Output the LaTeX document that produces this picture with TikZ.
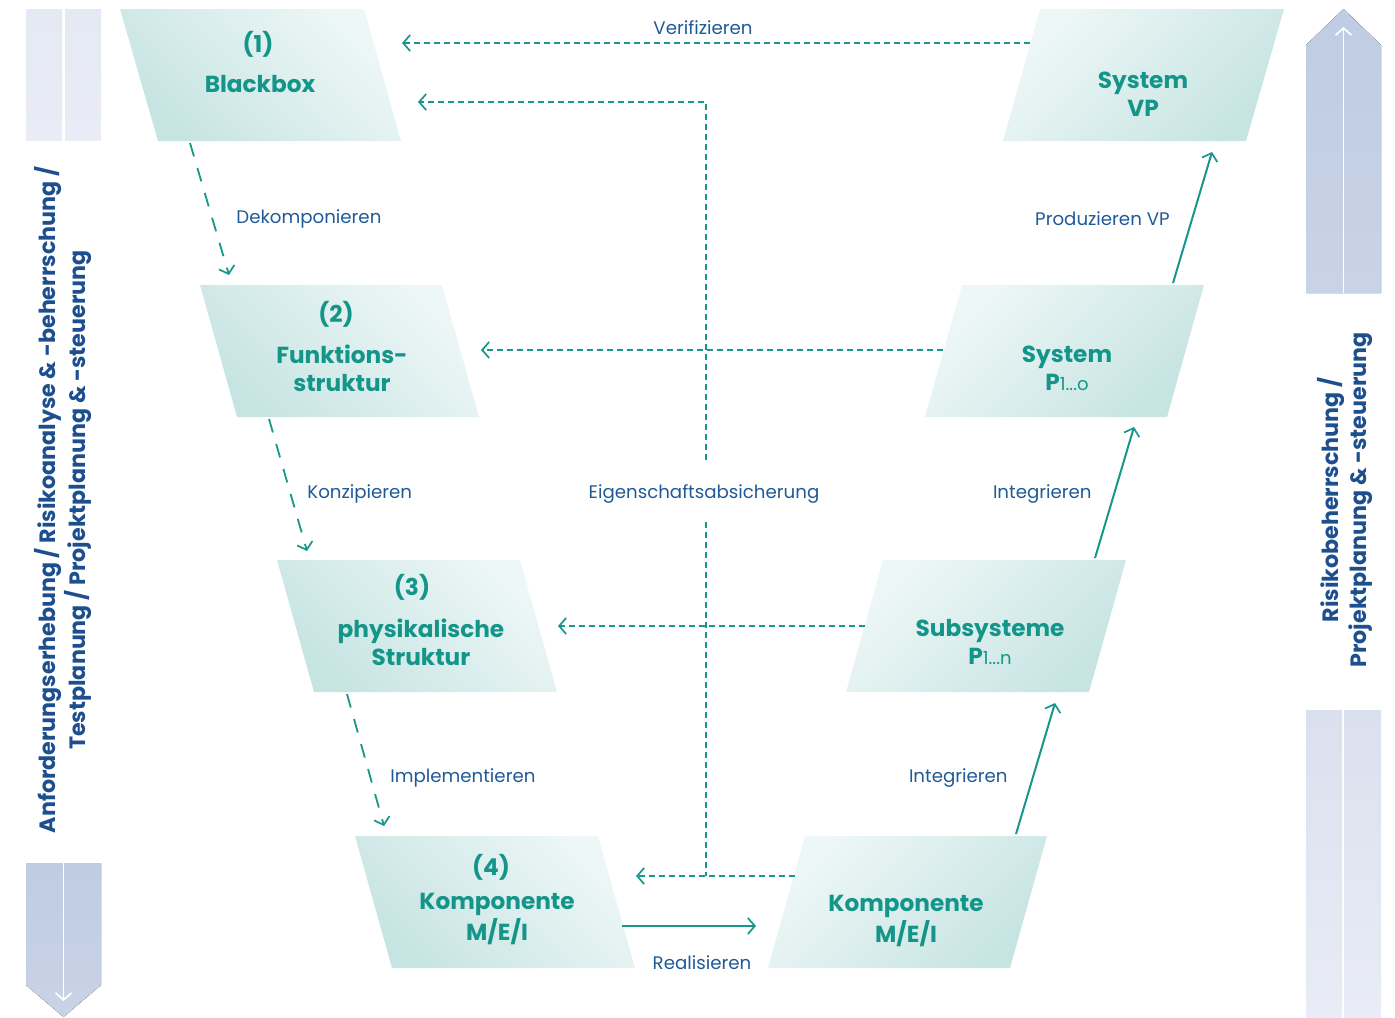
\documentclass[tikz,border=0pt]{standalone}
\usepackage{fontspec}
\setmainfont{Poppins}
\usetikzlibrary{arrows.meta}
\definecolor{boxdark}{HTML}{C6E4E2}
\definecolor{boxlight}{HTML}{EEF7F7}
\definecolor{titleteal}{HTML}{14958A}
\definecolor{conn}{HTML}{17968A}
\definecolor{lblblue}{HTML}{1F5A97}
\definecolor{sideblue}{HTML}{1D4F8F}
\definecolor{barpale}{HTML}{E5E9F4}
\definecolor{barpaleB}{HTML}{E9ECF6}
\definecolor{barmid}{HTML}{DAE0EE}
\definecolor{bardark}{HTML}{BFCCE3}
\definecolor{bardarkB}{HTML}{C9D3E6}
\tikzset{
 boxL/.style={top color=boxdark, bottom color=boxlight, shading angle=135},
 boxR/.style={top color=boxlight, bottom color=boxdark, shading angle=45},
 ttl/.style={text=titleteal, font=\fontsize{11.6}{14}\selectfont\bfseries, align=center, inner sep=0pt},
 lbl/.style={text=lblblue, font=\fontsize{9.1}{11}\selectfont, inner sep=0pt},
 side/.style={text=sideblue, font=\fontsize{11.1}{13}\selectfont\bfseries, rotate=90, inner sep=0pt},
 tip/.style={-{Straight Barb[length=3.5pt,width=8pt,line width=0.85pt]}},
 dsh/.style={draw=conn, line width=0.8pt, dash pattern=on 3pt off 2pt},
 ddiag/.style={draw=conn, line width=0.9pt, dash pattern=on 7pt off 6pt},
 sol/.style={draw=conn, line width=1pt},
 whiteline/.style={draw=white, line width=0.8pt},
}
\begin{document}
\begin{tikzpicture}[x=0.5pt,y=-0.5pt]
\useasboundingbox (0,0) rectangle (1395,1017);
% side bars
\fill[top color=barpale, bottom color=barpaleB] (26,9) rectangle (62,140);
\fill[top color=barpale, bottom color=barpaleB] (65,9) rectangle (101,140);
\fill[top color=bardark, bottom color=bardarkB] (26,863) -- (101,863) -- (101,985) -- (63.5,1017) -- (26,985) -- cycle;
\draw[whiteline, tip] (63.5,863) -- (63.5,1001);
\fill[top color=bardark, bottom color=bardarkB] (1306,293) -- (1306,45) -- (1343.5,9) -- (1381,45) -- (1381,293) -- cycle;
\draw[whiteline, tip] (1343.5,293) -- (1343.5,27);
\fill[top color=barmid, bottom color=barpaleB] (1306,710) rectangle (1342,1017);
\fill[top color=barmid, bottom color=barpaleB] (1344,710) rectangle (1381,1017);
\node[side] (s1) at (48,500) {Anforderungserhebung / Risikoanalyse \& -beherrschung /};
\node[side] (s2) at (78,500) {Testplanung / Projektplanung \& -steuerung};
\node[side] (s3) at (1331,500) {Risikobeherrschung /};
\node[side] (s4) at (1361,500) {Projektplanung \& -steuerung};
% left boxes
\shade[boxL] (120,9) -- (364,9) -- (401,141) -- (158,141) -- cycle;
\shade[boxL] (200,285) -- (442,285) -- (479,417) -- (237,417) -- cycle;
\shade[boxL] (277,560) -- (520,560) -- (557,692) -- (314,692) -- cycle;
\shade[boxL] (355,836) -- (598,836) -- (635,968) -- (392,968) -- cycle;
% right boxes
\shade[boxR] (1040,9) -- (1284,9) -- (1246,141) -- (1003,141) -- cycle;
\shade[boxR] (962,285) -- (1204,285) -- (1167,417) -- (925,417) -- cycle;
\shade[boxR] (883,560) -- (1126,560) -- (1089,692) -- (846,692) -- cycle;
\shade[boxR] (805,836) -- (1047,836) -- (1010,968) -- (768,968) -- cycle;
% titles
\node[ttl] (n1) at (258,44) {(1)};
\node[ttl] (b1) at (260,84) {Blackbox};
\node[ttl] (n2) at (336,314) {(2)};
\node[ttl] (b2) at (342,368) {Funktions-\\struktur};
\node[ttl] (n3) at (412,587) {(3)};
\node[ttl] (b3) at (421,642) {physikalische\\Struktur};
\node[ttl] (n4) at (491,867) {(4)};
\node[ttl] (b4) at (497,919) {Komponente\\M/E/I};
\node[ttl] (r1) at (1143,94) {System\\VP};
\node[ttl] (r2) at (1067,368) {System\\P{\fontsize{9}{9}\selectfont\mdseries 1...o}};
\node[ttl] (r3) at (990,642) {Subsysteme\\P{\fontsize{9}{9}\selectfont\mdseries 1...n}};
\node[ttl] (r4) at (906,921) {Komponente\\M/E/I};
% connector coordinates
\coordinate (a1) at (190,143); \coordinate (a2) at (229,275);
\coordinate (a3) at (269,419); \coordinate (a4) at (307,551);
\coordinate (a5) at (347,694); \coordinate (a6) at (384,826);
\coordinate (u1) at (1016,834); \coordinate (u2) at (1055,703);
\coordinate (u3) at (1095,558); \coordinate (u4) at (1134,427);
\coordinate (u5) at (1173,283); \coordinate (u6) at (1212,152);
\coordinate (h1) at (1030,43); \coordinate (h2) at (402,43);
\coordinate (h3) at (943,350); \coordinate (h4) at (481,350);
\coordinate (h5) at (865,626); \coordinate (h6) at (558,626);
\coordinate (h7) at (795,876); \coordinate (h8) at (636,876);
\coordinate (v1) at (706,460); \coordinate (v2) at (418,102);
\coordinate (v3) at (706,522); \coordinate (v4) at (706,876);
\coordinate (k1) at (622,926); \coordinate (k2) at (756,926);
% connectors
\draw[ddiag, tip] (a1) -- (a2);
\draw[ddiag, tip] (a3) -- (a4);
\draw[ddiag, tip] (a5) -- (a6);
\draw[sol, tip] (u1) -- (u2);
\draw[sol, tip] (u3) -- (u4);
\draw[sol, tip] (u5) -- (u6);
\draw[dsh, tip] (h1) -- (h2);
\draw[dsh, tip] (h3) -- (h4);
\draw[dsh, tip] (h5) -- (h6);
\draw[dsh, tip] (h7) -- (h8);
\draw[dsh, tip] (v1) |- (v2);
\draw[dsh] (v3) -- (v4);
\draw[sol, tip] (k1) -- (k2);
% labels
\node[lbl] (l1) at (703,28) {Verifizieren};
\node[lbl, anchor=west] (l2) at (236,219) {Dekomponieren};
\node[lbl, anchor=west] (l3) at (307,494) {Konzipieren};
\node[lbl, anchor=west] (l4) at (390,778) {Implementieren};
\node[lbl] (l5) at (704,494) {Eigenschaftsabsicherung};
\node[lbl, anchor=east] (l6) at (1170,219) {Produzieren VP};
\node[lbl, anchor=east] (l7) at (1092,494) {Integrieren};
\node[lbl, anchor=east] (l8) at (1008,778) {Integrieren};
\node[lbl] (l9) at (702,963) {Realisieren};
\end{tikzpicture}
\end{document}
